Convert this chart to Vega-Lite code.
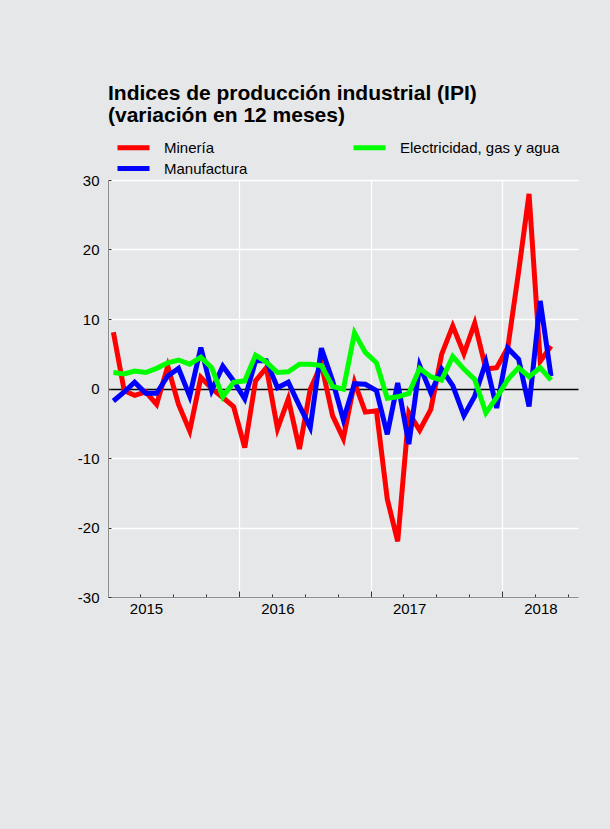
{
  "$schema": "https://vega.github.io/schema/vega-lite/v6.json",
  "width": 470,
  "height": 417,
  "autosize": {"type": "none"},
  "padding": {"left": 108, "top": 180, "right": 32, "bottom": 232},
  "background": "#e6e7e9",
  "title": {
    "text": ["Indices de producción industrial (IPI)", "(variación en 12 meses)"],
    "anchor": "start",
    "frame": "group",
    "font": "Liberation Sans",
    "fontSize": 21,
    "fontWeight": "bold",
    "color": "#000000",
    "lineHeight": 22,
    "offset": 14
  },
  "data": {
    "values": [
      {"date": "2015-01-16", "Minería": 8.1, "Manufactura": -1.8, "Electricidad, gas y agua": 2.3},
      {"date": "2015-02-15", "Minería": -0.3, "Manufactura": -0.5, "Electricidad, gas y agua": 2.1},
      {"date": "2015-03-16", "Minería": -1.0, "Manufactura": 0.9, "Electricidad, gas y agua": 2.5},
      {"date": "2015-04-16", "Minería": -0.5, "Manufactura": -0.7, "Electricidad, gas y agua": 2.3},
      {"date": "2015-05-16", "Minería": -2.3, "Manufactura": -0.7, "Electricidad, gas y agua": 2.9},
      {"date": "2015-06-16", "Minería": 3.2, "Manufactura": 1.8, "Electricidad, gas y agua": 3.7},
      {"date": "2015-07-16", "Minería": -2.3, "Manufactura": 2.9, "Electricidad, gas y agua": 4.1},
      {"date": "2015-08-16", "Minería": -6.1, "Manufactura": -1.1, "Electricidad, gas y agua": 3.5},
      {"date": "2015-09-16", "Minería": 1.6, "Manufactura": 5.9, "Electricidad, gas y agua": 4.5},
      {"date": "2015-10-16", "Minería": 0.0, "Manufactura": -0.3, "Electricidad, gas y agua": 3.0},
      {"date": "2015-11-16", "Minería": -1.3, "Manufactura": 3.2, "Electricidad, gas y agua": -1.2},
      {"date": "2015-12-16", "Minería": -2.6, "Manufactura": 1.1, "Electricidad, gas y agua": 0.9},
      {"date": "2016-01-16", "Minería": -8.5, "Manufactura": -1.5, "Electricidad, gas y agua": 1.1},
      {"date": "2016-02-15", "Minería": 1.1, "Manufactura": 4.0, "Electricidad, gas y agua": 4.8},
      {"date": "2016-03-16", "Minería": 3.0, "Manufactura": 4.0, "Electricidad, gas y agua": 3.8},
      {"date": "2016-04-16", "Minería": -5.8, "Manufactura": 0.1, "Electricidad, gas y agua": 2.3},
      {"date": "2016-05-16", "Minería": -1.5, "Manufactura": 0.9, "Electricidad, gas y agua": 2.4},
      {"date": "2016-06-16", "Minería": -8.7, "Manufactura": -2.5, "Electricidad, gas y agua": 3.5},
      {"date": "2016-07-16", "Minería": -0.1, "Manufactura": -5.6, "Electricidad, gas y agua": 3.5},
      {"date": "2016-08-16", "Minería": 3.5, "Manufactura": 5.8, "Electricidad, gas y agua": 3.3},
      {"date": "2016-09-16", "Minería": -3.9, "Manufactura": 1.1, "Electricidad, gas y agua": 0.3},
      {"date": "2016-10-16", "Minería": -7.2, "Manufactura": -4.5, "Electricidad, gas y agua": -0.1},
      {"date": "2016-11-16", "Minería": 0.9, "Manufactura": 0.7, "Electricidad, gas y agua": 8.0},
      {"date": "2016-12-16", "Minería": -3.4, "Manufactura": 0.6, "Electricidad, gas y agua": 5.2},
      {"date": "2017-01-16", "Minería": -3.2, "Manufactura": -0.3, "Electricidad, gas y agua": 3.7},
      {"date": "2017-02-15", "Minería": -15.9, "Manufactura": -6.6, "Electricidad, gas y agua": -1.4},
      {"date": "2017-03-16", "Minería": -22.0, "Manufactura": 0.8, "Electricidad, gas y agua": -1.2},
      {"date": "2017-04-16", "Minería": -3.5, "Manufactura": -8.0, "Electricidad, gas y agua": -0.7},
      {"date": "2017-05-16", "Minería": -6.0, "Manufactura": 3.3, "Electricidad, gas y agua": 2.9},
      {"date": "2017-06-16", "Minería": -3.0, "Manufactura": -0.6, "Electricidad, gas y agua": 1.7},
      {"date": "2017-07-16", "Minería": 4.9, "Manufactura": 2.8, "Electricidad, gas y agua": 1.2},
      {"date": "2017-08-16", "Minería": 9.0, "Manufactura": 0.4, "Electricidad, gas y agua": 4.6},
      {"date": "2017-09-16", "Minería": 5.0, "Manufactura": -3.9, "Electricidad, gas y agua": 2.8},
      {"date": "2017-10-16", "Minería": 9.4, "Manufactura": -1.1, "Electricidad, gas y agua": 1.3},
      {"date": "2017-11-16", "Minería": 2.8, "Manufactura": 3.8, "Electricidad, gas y agua": -3.5},
      {"date": "2017-12-16", "Minería": 3.0, "Manufactura": -2.8, "Electricidad, gas y agua": -1.3},
      {"date": "2018-01-16", "Minería": 5.9, "Manufactura": 5.8, "Electricidad, gas y agua": 1.3},
      {"date": "2018-02-15", "Minería": 16.8, "Manufactura": 4.2, "Electricidad, gas y agua": 3.0},
      {"date": "2018-03-16", "Minería": 28.0, "Manufactura": -2.6, "Electricidad, gas y agua": 1.7},
      {"date": "2018-04-16", "Minería": 3.9, "Manufactura": 12.6, "Electricidad, gas y agua": 3.0},
      {"date": "2018-05-16", "Minería": 6.1, "Manufactura": 1.8, "Electricidad, gas y agua": 1.2}
    ]
  },
  "transform": [
    {"fold": ["Minería", "Manufactura", "Electricidad, gas y agua"], "as": ["serie", "v"]}
  ],
  "mark": {"type": "line", "strokeWidth": 5, "strokeJoin": "miter", "strokeCap": "butt"},
  "encoding": {
    "x": {
      "field": "date",
      "type": "temporal",
      "scale": {
        "type": "utc",
        "domain": [
          {"year": 2015, "month": 1, "date": 1, "utc": true},
          {"year": 2018, "month": 7, "date": 30, "utc": true}
        ]
      },
      "axis": {
        "title": null,
        "tickCount": {"interval": "month", "step": 3},
        "labelExpr": "utcmonth(datum.value) == 0 ? '' + utcyear(datum.value) : ''",
        "labelOffset": 38,
        "labelOverlap": false,
        "labelBound": false,
        "labelFlush": false,
        "labelFont": "Liberation Sans",
        "labelFontSize": 15,
        "labelColor": "#000000",
        "labelPadding": 10,
        "tickSize": {"condition": {"test": "utcmonth(datum.value) == 0", "value": -6}, "value": -3},
        "tickColor": "#333333",
        "tickWidth": 1,
        "domainColor": "#8a8a8a",
        "domainWidth": 1,
        "grid": true,
        "gridColor": "#ffffff",
        "gridWidth": 1.3,
        "gridOpacity": {"condition": {"test": "utcmonth(datum.value) == 0", "value": 1}, "value": 0}
      }
    },
    "y": {
      "field": "v",
      "type": "quantitative",
      "scale": {"domain": [-30, 30], "nice": false, "zero": false},
      "axis": {
        "title": null,
        "values": [-30, -20, -10, 0, 10, 20, 30],
        "labelExpr": "'' + datum.value",
        "labelFont": "Liberation Sans",
        "labelFontSize": 15,
        "labelColor": "#000000",
        "labelPadding": 12,
        "tickSize": -3,
        "tickColor": "#333333",
        "domainColor": "#8a8a8a",
        "grid": true,
        "gridColor": {"condition": {"test": "datum.value === 0", "value": "#000000"}, "value": "#ffffff"},
        "gridWidth": 1.3
      }
    },
    "color": {
      "field": "serie",
      "type": "nominal",
      "scale": {
        "domain": ["Minería", "Manufactura", "Electricidad, gas y agua"],
        "range": ["#ff0000", "#0000ff", "#00ff00"]
      },
      "legend": {
        "title": null,
        "orient": "none",
        "legendX": 18,
        "legendY": -40,
        "columns": 2,
        "columnPadding": 95,
        "rowPadding": 0,
        "symbolType": "M-3.2,0H3.2",
        "symbolSize": 100,
        "symbolStrokeWidth": 5,
        "labelFont": "Liberation Sans",
        "labelFontSize": 15,
        "labelColor": "#000000",
        "labelOffset": 23,
        "padding": 0
      }
    }
  },
  "config": {
    "view": {"stroke": null},
    "font": "Liberation Sans"
  }
}
